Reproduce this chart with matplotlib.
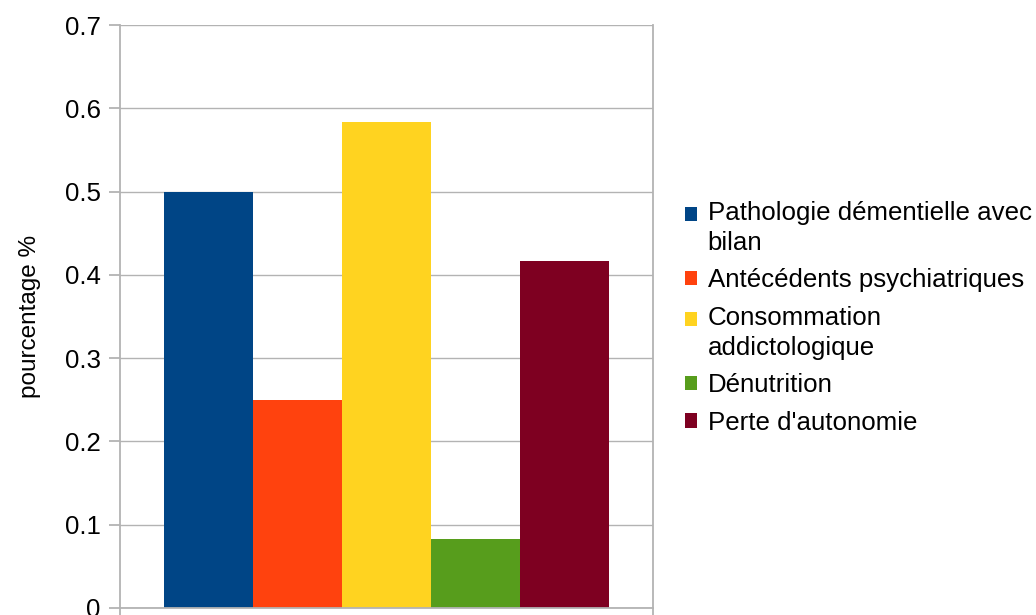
"""Share of patients per clinical factor, grouped bar chart."""

import matplotlib.pyplot as plt
import numpy as np
from matplotlib.legend_handler import HandlerPatch
from matplotlib.patches import Rectangle

plt.rcParams["font.family"] = ["Liberation Sans", "DejaVu Sans"]

series_names = [
    "Pathologie démentielle avec\nbilan",
    "Antécédents psychiatriques",
    "Consommation\naddictologique",
    "Dénutrition",
    "Perte d'autonomie",
]
series_values = [0.5, 0.25, 0.583, 0.083, 0.417]
series_colors = ["#004586", "#ff420e", "#ffd320", "#579d1c", "#7e0021"]
y_ticks = [0, 0.1, 0.2, 0.3, 0.4, 0.5, 0.6, 0.7]

GRID = "#b3b3b3"
FONT_SIZE = 18.6
LINE_SPACING = 1.31


def first_line_square(shift):
    """Legend square aligned with the first line of a wrapped label."""
    def make(legend, orig_handle, xdescent, ydescent, width, height, fontsize):
        return Rectangle((-xdescent, -ydescent + shift), width, height)
    return HandlerPatch(patch_func=make)


fig = plt.figure(figsize=(10.36, 6.15), dpi=100)
ax = fig.add_axes([0.1158, 0.0114, 0.5145, 0.9479])

positions = np.arange(len(series_values))
handles = []
for pos, value, color, name in zip(positions, series_values, series_colors, series_names):
    handles.append(ax.bar(pos, value, width=1.0, color=color, label=name, zorder=2)[0])

ax.set_xlim(-0.995, len(series_values) - 0.005)
ax.set_ylim(0, 0.7)
ax.set_yticks(y_ticks)
ax.set_yticklabels([f"{v:g}" for v in y_ticks])
ax.set_xticks(ax.get_xlim())
ax.set_xticklabels([])

ax.grid(axis="y", color=GRID, linewidth=1.0, zorder=0)
for side in ["left", "bottom", "right"]:
    ax.spines[side].set_color(GRID)
    ax.spines[side].set_linewidth(1.3)
ax.spines["top"].set_visible(False)
ax.tick_params(axis="both", direction="out", length=8, width=1.3, color=GRID,
               labelsize=FONT_SIZE, pad=6)

ax.set_ylabel("pourcentage %", fontsize=17.5, labelpad=17)

# wrapped labels get their square lifted to the first line
shift = 0.55 * FONT_SIZE
handler_map = {
    h: first_line_square(shift if "\n" in name else 0.0)
    for h, name in zip(handles, series_names)
}

leg = ax.legend(
    handles=handles,
    labels=series_names,
    handler_map=handler_map,
    loc="upper left",
    bbox_to_anchor=(685 / 1036, 1 - 201 / 615),
    bbox_transform=fig.transFigure,
    frameon=False,
    fontsize=FONT_SIZE,
    borderpad=0,
    borderaxespad=0,
    handlelength=0.48,
    handleheight=0.48,
    handletextpad=0.4,
    labelspacing=0.52,
)
for text in leg.get_texts():
    text.set_linespacing(LINE_SPACING)

fig.savefig("out.png", dpi=100)
